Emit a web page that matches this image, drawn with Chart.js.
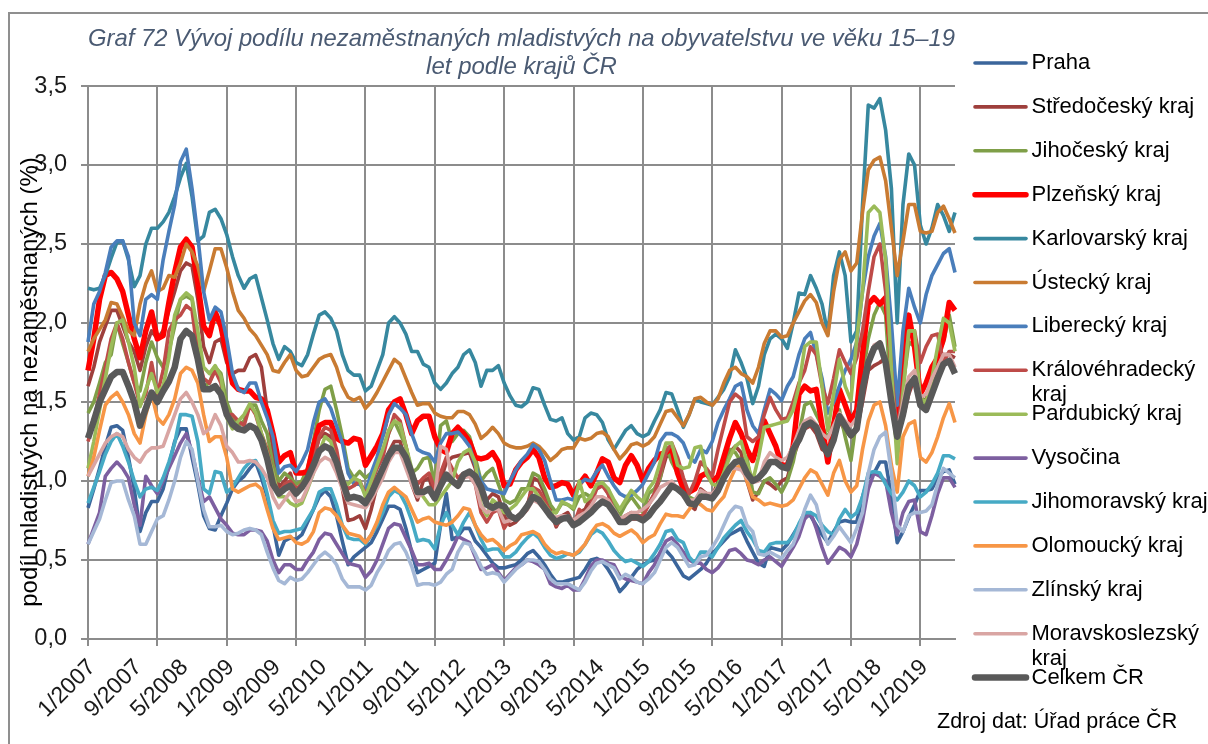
<!DOCTYPE html>
<html lang="cs">
<head>
<meta charset="utf-8">
<title>Graf 72</title>
<script src="https://cdn.jsdelivr.net/npm/chart.js@4"></script>
<style>
  html, body { margin: 0; padding: 0; background: #fff; }
  canvas { display: block; }
</style>
</head>
<body>
<canvas id="graf" width="1208" height="744"></canvas>
<script>
const months = [];
for (let y = 2007; y <= 2019; y++) {
  for (let m = 1; m <= 12; m++) {
    if (y === 2019 && m > 7) break;
    months.push(m + '/' + y);
  }
}

const yTicks = [0, 0.5, 1, 1.5, 2, 2.5, 3, 3.5];

const praha = [
  .83,.95,1.08,1.22,1.34,1.35,1.32,1.15,.95,.68,.80,.87,
  .87,.95,1.10,1.25,1.33,1.33,1.15,.98,.78,.70,.69,.78,
  .86,.95,1.0,1.03,1.08,1.12,1.02,.90,.72,.53,.62,.64,
  .63,.66,.74,.82,.90,.94,.90,.78,.62,.47,.52,.55,
  .58,.61,.68,.76,.84,.84,.82,.70,.55,.42,.44,.46,
  .48,.72,.92,.63,.65,.70,.70,.62,.58,.53,.48,.45,
  .45,.46,.47,.50,.54,.56,.52,.47,.41,.36,.36,.37,
  .38,.39,.44,.50,.51,.49,.44,.38,.30,.34,.39,.44,
  .47,.49,.50,.54,.56,.52,.46,.40,.38,.41,.44,.48,
  .54,.58,.62,.66,.68,.70,.62,.55,.48,.46,.58,.57,
  .56,.60,.66,.72,.78,.78,.72,.66,.61,.68,.74,.75,
  .74,.74,.90,1.02,1.05,1.12,1.12,.90,.61,.68,.77,.85,
  .94,.94,.95,1.02,1.06,1.07,.98];
const stredocesky = [
  1.60,1.72,1.88,1.98,2.08,2.08,1.98,1.88,1.82,1.70,1.85,1.95,
  1.90,1.95,2.08,2.20,2.33,2.38,2.36,2.15,1.85,1.75,1.88,1.90,
  1.75,1.68,1.70,1.70,1.78,1.80,1.72,1.45,1.20,.96,1.0,1.05,
  .93,.97,1.04,1.15,1.27,1.30,1.28,1.15,.95,.75,.76,.78,
  .70,.82,.97,1.05,1.18,1.25,1.25,1.12,.98,.88,1.0,1.02,
  .90,1.0,1.12,1.15,1.16,1.17,1.18,1.08,.92,.88,.92,.90,
  .78,.72,.74,.78,.82,1.02,1.0,.92,.82,.71,.78,.80,
  .73,.80,.82,.90,.96,.98,.92,.82,.74,.76,.76,.76,
  .78,.85,.92,1.02,1.15,1.18,1.10,.98,.85,.82,.95,.92,
  .90,1.0,1.10,1.18,1.22,1.18,1.0,.88,.93,1.0,.98,.95,
  1.0,1.02,1.15,1.25,1.33,1.35,1.30,1.2,1.18,1.25,1.38,1.32,
  1.28,1.32,1.5,1.70,1.73,1.75,1.78,1.55,1.28,1.4,1.55,1.65,
  1.50,1.52,1.62,1.72,1.8,1.80,1.78];
const jihocesky = [
  1.43,1.50,1.62,1.75,1.80,2.0,1.87,1.75,1.62,1.57,1.75,1.88,
  1.78,1.72,1.82,1.98,2.15,2.17,2.15,1.85,1.60,1.62,1.72,1.68,
  1.50,1.40,1.35,1.38,1.48,1.48,1.38,1.30,1.10,1.0,1.05,1.02,
  .98,1.0,1.08,1.25,1.45,1.58,1.60,1.45,1.28,1.08,1.02,1.06,
  1.02,1.05,1.1,1.18,1.30,1.38,1.30,1.22,1.05,1.08,1.14,1.15,
  .98,1.35,1.38,1.25,1.30,1.32,1.28,1.15,1.0,1.05,1.08,.98,
  .88,.86,.88,.95,.95,1.05,1.03,.95,.85,.80,.86,.85,
  .82,.90,.92,.90,.95,.98,.95,.85,.78,.85,.90,.85,
  .80,.92,.95,1.02,1.22,1.12,1.05,.95,.90,.88,.92,.90,
  .88,.98,1.12,1.2,1.18,1.12,1.15,.93,.92,1.0,1.02,.98,
  .93,1.0,1.12,1.30,1.48,1.50,1.42,1.35,1.27,1.38,1.45,1.28,
  1.13,1.40,1.65,1.90,2.05,2.13,2.05,1.5,1.22,1.6,1.88,1.85,
  1.55,1.48,1.62,1.8,1.88,2.05,1.85];
const plzensky = [
  1.70,1.90,2.15,2.3,2.32,2.28,2.2,2.05,1.9,1.78,1.95,2.07,
  1.90,1.92,2.13,2.32,2.48,2.53,2.48,2.25,1.98,1.92,2.07,1.98,
  1.8,1.62,1.58,1.57,1.57,1.53,1.52,1.45,1.30,1.12,1.16,1.18,
  1.05,1.05,1.06,1.22,1.35,1.37,1.37,1.27,1.25,1.24,1.27,1.26,
  1.10,1.16,1.22,1.30,1.45,1.50,1.52,1.42,1.30,1.38,1.41,1.41,
  1.28,1.20,1.18,1.30,1.34,1.30,1.25,1.15,1.14,1.15,1.18,1.12,
  .97,.98,1.07,1.12,1.15,1.2,1.15,1.02,.96,.97,.99,.98,
  .91,.98,1.03,.97,1.05,1.14,1.12,1.02,.99,1.10,1.16,1.10,
  1.00,1.08,1.13,1.17,1.18,1.21,1.05,.95,.93,.95,1.03,1.05,
  1.0,1.03,1.15,1.27,1.37,1.30,1.20,1.13,1.25,1.38,1.30,1.22,
  1.10,1.10,1.22,1.55,1.60,1.57,1.58,1.35,1.12,1.35,1.58,1.48,
  1.38,1.45,1.80,2.12,2.16,2.12,2.16,1.8,1.35,1.75,2.05,1.85,
  1.55,1.62,1.72,1.78,1.90,2.13,2.08];
const karlovarsky = [
  2.22,2.21,2.22,2.30,2.41,2.51,2.52,2.40,2.23,2.30,2.50,2.60,
  2.60,2.64,2.70,2.80,2.92,3.01,2.80,2.52,2.55,2.70,2.72,2.66,
  2.56,2.42,2.30,2.22,2.28,2.30,2.16,2.02,1.87,1.77,1.85,1.82,
  1.75,1.73,1.80,1.93,2.05,2.07,2.03,1.95,1.80,1.70,1.67,1.67,
  1.57,1.60,1.70,1.80,2.00,2.04,2.00,1.93,1.82,1.82,1.74,1.72,
  1.62,1.58,1.62,1.68,1.72,1.80,1.83,1.75,1.60,1.70,1.70,1.73,
  1.62,1.54,1.48,1.47,1.50,1.59,1.58,1.48,1.39,1.38,1.40,1.30,
  1.26,1.28,1.40,1.43,1.42,1.37,1.26,1.20,1.26,1.32,1.35,1.30,
  1.28,1.30,1.38,1.45,1.56,1.55,1.45,1.34,1.42,1.52,1.50,1.49,
  1.48,1.53,1.58,1.66,1.83,1.75,1.65,1.49,1.60,1.80,1.90,1.93,
  1.90,1.84,2.0,2.19,2.18,2.3,2.22,2.12,1.93,2.3,2.45,2.3,
  1.88,1.95,2.75,3.38,3.36,3.42,3.22,2.85,2.0,2.75,3.07,3.0,
  2.62,2.5,2.6,2.75,2.68,2.58,2.70];
const ustecky = [
  1.82,1.90,1.96,2.02,2.13,2.12,2.04,1.95,1.92,2.12,2.25,2.33,
  2.20,2.22,2.3,2.29,2.38,2.5,2.45,2.36,2.2,2.33,2.47,2.47,
  2.35,2.2,2.08,2.03,1.96,1.92,1.86,1.80,1.70,1.69,1.75,1.80,
  1.70,1.66,1.67,1.72,1.77,1.79,1.80,1.72,1.60,1.53,1.51,1.53,
  1.46,1.50,1.56,1.63,1.70,1.77,1.74,1.65,1.56,1.48,1.49,1.49,
  1.43,1.41,1.40,1.40,1.44,1.44,1.42,1.36,1.27,1.30,1.34,1.30,
  1.24,1.22,1.21,1.21,1.22,1.24,1.22,1.18,1.13,1.16,1.20,1.21,
  1.21,1.27,1.26,1.27,1.30,1.31,1.28,1.20,1.14,1.18,1.23,1.24,
  1.22,1.24,1.28,1.36,1.44,1.45,1.40,1.35,1.42,1.52,1.53,1.50,
  1.48,1.52,1.62,1.70,1.72,1.68,1.66,1.62,1.72,1.87,1.95,1.95,
  1.91,1.92,2.0,2.07,2.14,2.18,2.13,2.0,1.92,2.2,2.4,2.45,
  2.33,2.38,2.7,2.97,3.03,3.05,2.9,2.6,2.3,2.52,2.75,2.75,
  2.58,2.57,2.58,2.7,2.74,2.66,2.57];
const liberecky = [
  1.88,2.12,2.20,2.32,2.48,2.52,2.52,2.42,2.0,1.92,2.15,2.18,
  2.15,2.4,2.58,2.75,3.02,3.1,2.85,2.55,2.2,2.02,2.10,2.07,
  1.9,1.68,1.58,1.56,1.62,1.62,1.50,1.40,1.28,1.05,1.09,1.10,
  1.06,1.12,1.20,1.37,1.50,1.52,1.46,1.35,1.24,1.05,.98,.98,
  .93,1.05,1.15,1.28,1.42,1.49,1.46,1.42,1.30,1.20,1.18,1.17,
  1.12,1.24,1.30,1.30,1.31,1.27,1.22,1.10,1.00,.95,.94,.93,
  .92,1.00,1.07,1.13,1.17,1.23,1.20,1.13,1.00,.88,.88,.89,
  .88,.98,1.01,1.00,1.06,1.10,1.03,.97,.92,.90,.91,.94,
  .98,1.05,1.12,1.25,1.30,1.30,1.28,1.24,1.15,1.12,1.20,1.18,
  1.25,1.37,1.45,1.52,1.60,1.62,1.45,1.35,1.3,1.45,1.58,1.55,
  1.51,1.60,1.66,1.80,1.90,1.94,1.80,1.65,1.43,1.50,1.60,1.70,
  1.77,1.88,2.2,2.42,2.55,2.63,2.42,2.0,1.48,1.95,2.22,2.1,
  2.0,2.18,2.3,2.37,2.44,2.47,2.32];
const kralovehradecky = [
  1.25,1.38,1.55,1.72,1.90,2.0,1.9,1.75,1.62,1.48,1.55,1.75,
  1.55,1.70,1.95,2.02,2.05,2.11,2.08,1.80,1.65,1.62,1.70,1.62,
  1.42,1.42,1.38,1.35,1.48,1.42,1.3,1.2,1.05,.92,.98,1.0,
  .95,.98,1.02,1.12,1.28,1.34,1.32,1.2,1.0,.95,.97,1.0,
  .92,.98,1.08,1.15,1.3,1.42,1.38,1.22,1.05,.98,1.02,1.05,
  .95,1.05,1.15,1.08,1.02,1.05,1.03,.98,.80,.74,.80,.82,
  .70,.76,.76,.78,.85,.96,.94,.88,.80,.72,.76,.76,
  .72,.82,.78,.85,.95,.97,.92,.80,.75,.78,.80,.78,
  .78,.85,.92,1.05,1.18,1.24,1.15,1.02,.92,1.0,1.12,1.08,
  1.03,1.2,1.35,1.5,1.55,1.52,1.28,1.25,1.28,1.42,1.53,1.45,
  1.39,1.4,1.5,1.62,1.70,1.85,1.80,1.6,1.49,1.65,1.83,1.75,
  1.68,1.78,1.95,2.2,2.42,2.5,2.2,1.7,1.3,1.6,1.95,1.95,
  1.75,1.85,1.92,1.93,1.75,1.82,1.82];
const pardubicky = [
  1.08,1.25,1.45,1.65,1.85,2.0,2.02,1.88,1.72,1.47,1.58,1.68,
  1.56,1.60,1.78,2.05,2.15,2.19,2.16,1.95,1.72,1.68,1.73,1.66,
  1.40,1.33,1.38,1.42,1.49,1.43,1.30,1.18,1.05,.90,.90,.86,
  .84,.86,.95,1.05,1.18,1.28,1.25,1.12,1.0,.98,1.02,1.0,
  .9,1.0,1.1,1.2,1.32,1.38,1.36,1.22,1.08,.95,.90,.85,
  .85,.90,.95,1.0,1.12,1.18,1.2,1.12,.85,.78,.88,.85,
  .80,.82,.85,.9,.95,.95,.90,.85,.80,.80,.87,.85,
  .83,1.0,.87,.90,.98,.99,.95,.88,.82,.88,.94,.90,
  .87,.95,1.0,1.12,1.24,1.24,1.10,1.08,1.09,1.21,1.22,1.05,
  .98,.97,1.05,1.15,1.22,1.25,1.12,1.0,1.15,1.34,1.35,1.36,
  1.37,1.38,1.45,1.6,1.85,1.88,1.88,1.6,1.32,1.55,1.77,1.6,
  1.51,1.9,2.2,2.7,2.74,2.7,2.4,1.7,1.11,1.55,1.95,1.95,
  1.52,1.5,1.65,1.85,2.03,2.0,1.82];
const vysocina = [
  .6,.7,.8,1.03,1.08,1.12,1.08,1.02,.85,.72,1.03,.97,
  .92,1.0,1.08,1.16,1.24,1.3,1.18,1.02,.87,.90,.83,.76,
  .72,.67,.66,.66,.69,.69,.68,.62,.50,.42,.47,.47,
  .44,.44,.50,.55,.63,.67,.66,.60,.54,.48,.47,.46,
  .39,.43,.50,.60,.70,.73,.72,.64,.56,.47,.47,.48,
  .44,.44,.50,.57,.65,.63,.61,.52,.44,.45,.47,.42,
  .37,.41,.45,.47,.50,.49,.47,.44,.35,.33,.32,.34,
  .31,.31,.38,.46,.50,.50,.48,.47,.40,.38,.37,.36,
  .35,.42,.47,.55,.62,.64,.60,.55,.50,.48,.48,.44,
  .42,.45,.50,.56,.57,.54,.50,.49,.47,.50,.52,.49,
  .46,.52,.58,.65,.76,.80,.70,.58,.48,.53,.58,.56,
  .52,.60,.75,.95,1.05,1.03,1.0,.8,.66,.8,.87,.88,
  .68,.66,.78,.92,1.02,1.02,.96];
const jihomoravsky = [
  .86,.96,1.06,1.17,1.25,1.30,1.22,1.12,1.0,.90,.95,.96,
  .94,1.02,1.12,1.24,1.42,1.42,1.41,1.25,.95,.92,1.06,1.05,
  .93,.96,1.02,1.08,1.12,1.13,1.06,.92,.75,.67,.68,.68,
  .69,.70,.76,.82,.93,.95,.95,.85,.72,.64,.63,.63,
  .60,.66,.72,.80,.90,.94,.92,.85,.75,.62,.63,.62,
  .57,.72,.80,.72,.66,.74,.80,.72,.63,.56,.57,.57,
  .52,.52,.55,.60,.64,.67,.64,.58,.53,.51,.52,.54,
  .53,.55,.60,.66,.69,.67,.62,.56,.52,.49,.50,.48,
  .46,.49,.54,.60,.68,.69,.63,.61,.52,.48,.55,.55,
  .52,.58,.64,.68,.72,.75,.68,.63,.56,.55,.60,.61,
  .61,.61,.65,.73,.80,.80,.78,.72,.68,.66,.76,.82,
  .77,.80,.90,1.05,1.06,1.05,.98,.92,.88,.93,1.0,.97,
  .90,.93,.98,1.05,1.16,1.16,1.14];
const olomoucky = [
  1.03,1.15,1.32,1.48,1.53,1.56,1.50,1.42,1.30,1.24,1.42,1.55,
  1.40,1.36,1.42,1.52,1.68,1.72,1.70,1.62,1.42,1.25,1.28,1.28,
  1.15,.95,.93,.95,.97,.98,.95,.82,.70,.63,.64,.65,
  .61,.60,.62,.68,.80,.83,.82,.78,.72,.67,.66,.65,
  .61,.66,.74,.85,.93,.96,.93,.90,.82,.74,.76,.77,
  .74,.73,.72,.74,.78,.83,.82,.72,.66,.62,.63,.60,
  .56,.59,.61,.66,.67,.68,.66,.60,.56,.54,.55,.54,
  .53,.56,.60,.67,.72,.73,.71,.67,.65,.67,.69,.66,
  .61,.64,.66,.73,.79,.78,.78,.77,.82,.87,.85,.82,
  .81,.86,.90,1.0,1.08,1.10,1.0,.90,.88,.85,.86,.85,
  .84,.85,.88,.95,1.02,1.07,1.05,.98,.91,1.05,1.13,1.0,
  .93,.97,1.20,1.38,1.48,1.50,1.35,1.1,.93,1.28,1.36,1.38,
  1.15,1.12,1.18,1.28,1.40,1.49,1.37];
const zlinsky = [
  .6,.68,.76,.88,.99,1.0,1.0,.88,.78,.60,.60,.68,
  .76,.78,.88,1.0,1.15,1.25,1.2,1.0,.82,.71,.71,.72,
  .68,.66,.67,.69,.70,.69,.66,.55,.45,.37,.35,.39,
  .37,.38,.42,.47,.52,.55,.52,.47,.38,.33,.33,.33,
  .31,.34,.42,.48,.56,.60,.61,.55,.46,.34,.35,.35,
  .34,.36,.41,.44,.55,.61,.60,.54,.46,.41,.42,.41,
  .36,.40,.44,.47,.50,.50,.49,.44,.38,.35,.35,.35,
  .33,.31,.36,.43,.48,.49,.47,.45,.38,.41,.39,.36,
  .35,.38,.42,.50,.58,.61,.58,.52,.46,.47,.52,.53,
  .58,.64,.72,.80,.84,.83,.72,.68,.54,.53,.55,.53,
  .51,.56,.60,.70,.82,.91,.85,.70,.60,.65,.71,.66,
  .61,.70,.80,1.05,1.2,1.28,1.31,1.05,.72,.68,.78,.80,
  .80,.81,.85,.98,1.08,1.05,1.02];
const moravskoslezsky = [
  1.03,1.1,1.17,1.24,1.28,1.30,1.28,1.2,1.15,1.12,1.18,1.21,
  1.21,1.22,1.32,1.42,1.52,1.56,1.5,1.42,1.3,1.33,1.42,1.35,
  1.22,1.18,1.12,1.12,1.13,1.12,1.08,1.02,.9,.83,.88,.93,
  .87,.88,.96,1.05,1.12,1.15,1.13,1.05,.95,.86,.85,.84,
  .83,.88,.95,1.02,1.12,1.18,1.18,1.08,.98,.90,.92,.95,
  .90,1.22,1.2,1.0,.98,1.02,1.03,.98,.84,.80,.82,.82,
  .74,.75,.77,.80,.82,.88,.86,.82,.78,.77,.78,.78,
  .75,.78,.80,.84,.90,.90,.88,.82,.76,.78,.80,.80,
  .82,.85,.90,.96,.98,1.0,.95,.90,.88,.88,.94,.92,
  .92,.96,1.03,1.08,1.08,1.07,1.02,.99,1.0,1.12,1.18,1.15,
  1.13,1.15,1.22,1.32,1.38,1.40,1.36,1.30,1.27,1.35,1.43,1.38,
  1.35,1.4,1.6,1.78,1.86,1.88,1.75,1.55,1.32,1.50,1.66,1.70,
  1.53,1.55,1.65,1.72,1.80,1.80,1.72];
const celkem = [
  1.27,1.38,1.50,1.58,1.66,1.69,1.69,1.60,1.50,1.35,1.46,1.56,
  1.50,1.57,1.63,1.72,1.90,1.95,1.92,1.77,1.58,1.58,1.60,1.55,
  1.42,1.36,1.33,1.32,1.35,1.33,1.26,1.14,.98,.92,.95,.97,
  .92,.96,1.02,1.10,1.19,1.22,1.20,1.12,1.00,.89,.90,.89,
  .86,.92,1.00,1.08,1.16,1.21,1.21,1.15,1.05,.93,.93,.95,
  .89,.97,1.04,1.00,.97,1.04,1.06,1.03,.96,.85,.83,.85,
  .84,.78,.76,.79,.84,.90,.88,.83,.78,.74,.76,.77,
  .72,.74,.77,.80,.84,.87,.85,.80,.74,.74,.77,.77,
  .75,.78,.83,.87,.92,.97,.95,.92,.86,.85,.90,.90,
  .89,.94,1.02,1.08,1.12,1.13,1.05,1.00,1.02,1.06,1.12,1.12,
  1.09,1.08,1.20,1.26,1.35,1.37,1.34,1.24,1.17,1.26,1.41,1.35,
  1.29,1.33,1.58,1.75,1.84,1.87,1.75,1.50,1.28,1.42,1.60,1.65,
  1.48,1.45,1.55,1.65,1.74,1.76,1.68];

const seriesNames = ['Praha', 'Středočeský kraj', 'Jihočeský kraj', 'Plzeňský kraj', 'Karlovarský kraj',
  'Ústecký kraj', 'Liberecký kraj', 'Královéhradecký kraj', 'Pardubický kraj', 'Vysočina',
  'Jihomoravský kraj', 'Olomoucký kraj', 'Zlínský kraj', 'Moravskoslezský kraj', 'Celkem ČR'];
const seriesValues = [praha, stredocesky, jihocesky, plzensky, karlovarsky, ustecky, liberecky,
  kralovehradecky, pardubicky, vysocina, jihomoravsky, olomoucky, zlinsky, moravskoslezsky, celkem];
const seriesColors = ['#3B659B', '#9E3F3C', '#7F9F48', '#FF0000', '#37889F', '#C97B32', '#4A7EBB',
  '#BE4B48', '#9BBB59', '#7D5FA0', '#46AAC5', '#F79646', '#A5B8D6', '#D9A5A3', '#595959'];
const seriesWidths = [3.6, 3.6, 3.6, 5.5, 3.6, 3.6, 3.6, 3.6, 3.6, 3.6, 3.6, 3.6, 3.6, 3.6, 6.5];

const gridGray = '#8C8C8C';
const fontName = '"Liberation Sans", Arial, sans-serif';

// legenda a popisky, ktere se v originale prekryvaji s osou
const notes = {
  id: 'notes',
  afterDraw(chart) {
    const ctx = chart.ctx;
    ctx.save();

    ctx.strokeStyle = '#8F8F8F';
    ctx.lineWidth = 2;
    ctx.beginPath();
    ctx.moveTo(9, 744);
    ctx.lineTo(9, 13);
    ctx.lineTo(1208, 13);
    ctx.stroke();

    ctx.fillStyle = '#000';
    ctx.textBaseline = 'middle';
    ctx.font = '22px ' + fontName;
    chart.data.datasets.forEach((ds, i) => {
      const y = 63 + i * 43.9;
      ctx.strokeStyle = ds.borderColor;
      ctx.lineWidth = ds.borderWidth;
      ctx.lineCap = 'round';
      ctx.beginPath();
      ctx.moveTo(975, y);
      ctx.lineTo(1026, y);
      ctx.stroke();
      const label = ds.label;
      if (label === 'Královéhradecký kraj' || label === 'Moravskoslezský kraj') {
        const parts = label.split(' ');
        ctx.fillText(parts[0], 1031.5, y);
        ctx.fillText(parts[1], 1031.5, y + 25);
      } else {
        ctx.fillText(label, 1031.5, y);
      }
    });

    ctx.font = '21.5px ' + fontName;
    ctx.fillText('Zdroj dat: Úřad práce ČR', 937, 722);

    ctx.font = '24px ' + fontName;
    ctx.translate(30, 382);
    ctx.rotate(-Math.PI / 2);
    ctx.textAlign = 'center';
    ctx.fillText('podíl mladistvých na nezaměstnaných (%)', 0, 0);
    ctx.restore();
  }
};

new Chart(document.getElementById('graf'), {
  type: 'line',
  data: {
    labels: months,
    datasets: seriesNames.map((name, i) => ({
      label: name,
      data: seriesValues[i],
      borderColor: seriesColors[i],
      borderWidth: seriesWidths[i],
      pointRadius: 0,
      tension: 0,
      clip: false,
      borderJoinStyle: 'round',
      order: seriesNames.length - i
    }))
  },
  plugins: [notes],
  options: {
    responsive: false,
    animation: false,
    devicePixelRatio: 1,
    layout: { padding: { left: 0, right: 253, top: 25, bottom: 0 } },
    plugins: {
      legend: { display: false },
      tooltip: { enabled: false },
      title: {
        display: true,
        fullSize: false,
        text: ['Graf 72 Vývoj podílu nezaměstnaných mladistvých na obyvatelstvu ve věku 15–19', 'let podle krajů ČR'],
        color: '#4A5A72',
        font: { family: fontName, size: 24, style: 'italic', weight: 'normal', lineHeight: 1.167 },
        padding: { top: 0, bottom: 5 }
      }
    },
    scales: {
      x: {
        afterFit(scale) { scale.height = 105; },
        grid: {
          color: ctx => (ctx.index % 12 === 0 ? gridGray : 'transparent'),
          tickColor: ctx => (ctx.index % 12 === 0 ? gridGray : 'transparent'),
          lineWidth: 2,
          tickLength: 7
        },
        border: { color: gridGray, width: 2 },
        ticks: {
          autoSkip: false,
          minRotation: 45,
          maxRotation: 45,
          color: '#1A1A1A',
          padding: 8,
          labelOffset: 4,
          font: { family: fontName, size: 23 },
          callback(value, index) { return index % 8 === 0 ? this.getLabelForValue(value) : ''; }
        }
      },
      y: {
        min: 0,
        max: 3.5,
        afterFit(scale) { scale.width = 88; },
        afterBuildTicks(scale) { scale.ticks = yTicks.map(v => ({ value: v })); },
        grid: { color: gridGray, tickColor: gridGray, lineWidth: 2, tickLength: 7 },
        border: { color: gridGray, width: 2 },
        ticks: {
          color: '#1A1A1A',
          padding: 14,
          font: { family: fontName, size: 23.5 },
          callback: v => v.toFixed(1).replace('.', ',')
        }
      }
    }
  }
});
</script>
</body>
</html>
